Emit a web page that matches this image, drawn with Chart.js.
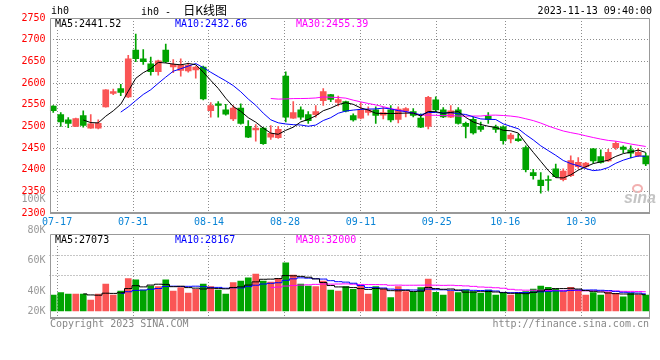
<!DOCTYPE html>
<html><head><meta charset="utf-8">
<script src="https://cdn.jsdelivr.net/npm/chart.js@4.4.0/dist/chart.umd.min.js"></script>
<style>
html,body{margin:0;padding:0;background:#fff;}
#wrap{position:relative;width:660px;height:360px;overflow:hidden;font-family:"DejaVu Sans Mono",monospace;font-size:10px;color:#000;}
canvas{position:absolute;left:0;}
#pc{top:0;}
#vc{top:190px;}
.t{position:absolute;white-space:nowrap;line-height:11px;font-size:10px;}
.h{position:absolute;white-space:nowrap;line-height:9px;height:9px;font-size:10px;background:#fff;padding:0 1px;}
</style></head><body>
<div id="wrap">
<canvas id="pc" width="660" height="232"></canvas>
<canvas id="vc" width="660" height="170"></canvas>
<div class="t" style="left:51px;top:5px;">ih0</div>
<div class="t" style="left:141px;top:3px;line-height:14px;">ih0 - <span style="font-family:'Noto Sans CJK SC';font-size:12px;margin-left:6px;">日K线图</span></div>
<div class="t" style="right:8px;top:5px;">2023-11-13 09:40:00</div>
<div class="h" style="left:54px;top:19px;color:#000;">MA5:2441.52</div>
<div class="h" style="left:174px;top:19px;color:#0000ff;">MA10:2432.66</div>
<div class="h" style="left:295px;top:19px;color:#ff00ff;">MA30:2455.39</div>
<div class="h" style="left:54px;top:235px;color:#000;">MA5:27073</div>
<div class="h" style="left:174px;top:235px;color:#0000ff;">MA10:28167</div>
<div class="h" style="left:295px;top:235px;color:#ff00ff;">MA30:32000</div>
<div class="t" style="left:50px;top:318px;color:#888;">Copyright 2023 SINA.COM</div>
<div class="t" style="right:11px;top:318px;color:#888;">http://finance.sina.com.cn</div>
<div style="position:absolute;left:632px;top:184px;width:7px;height:5px;border:2px solid #f2b0b0;border-radius:50%;"></div>
<div class="t" style="left:624px;top:190px;font-family:'Liberation Sans',sans-serif;font-style:italic;font-weight:bold;font-size:16px;line-height:16px;color:#c4c4c4;">sina</div>
</div>
<script>
const dates = ['07-14','07-17','07-18','07-19','07-20','07-21','07-24','07-25','07-26','07-27','07-28','07-31',
'08-01','08-02','08-03','08-04','08-07','08-08','08-09','08-10','08-11','08-14','08-15','08-16','08-17','08-18','08-21','08-22','08-23','08-24','08-25','08-28','08-29','08-30','08-31',
'09-01','09-04','09-05','09-06','09-07','09-08','09-11','09-12','09-13','09-14','09-15','09-18','09-19','09-20','09-21','09-22','09-25','09-26','09-27','09-28',
'10-09','10-10','10-11','10-12','10-13','10-16','10-17','10-18','10-19','10-20','10-23','10-24','10-25','10-26','10-27','10-30','10-31',
'11-01','11-02','11-03','11-06','11-07','11-08','11-09','11-10'];

const opens = [2547,2527,2515,2500,2525,2496,2496,2545,2576,2587,
2568,2676,2656,2644,2626,2676,2637,2629,2628,2630,
2637,2536,2552,2538,2517,2542,2500,2492,2496,2475,
2474,2616,2519,2538,2527,2527,2559,2573,2555,2557,
2525,2519,2532,2538,2526,2538,2516,2536,2534,2519,
2500,2561,2538,2521,2538,2507,2516,2500,2523,2499,
2499,2471,2471,2451,2393,2376,2377,2402,2377,2386,
2407,2407,2448,2430,2420,2451,2452,2446,2432,2432];

const highs = [2548,2532,2520,2519,2536,2527,2515,2585,2586,2597,
2664,2713,2677,2660,2653,2690,2654,2656,2646,2639,
2639,2555,2557,2551,2548,2552,2513,2504,2497,2502,
2500,2626,2557,2545,2534,2548,2587,2574,2570,2558,
2529,2555,2545,2545,2543,2548,2545,2543,2541,2529,
2569,2568,2543,2548,2543,2510,2522,2510,2532,2503,
2501,2484,2482,2455,2401,2393,2386,2413,2402,2432,
2428,2417,2449,2446,2447,2465,2455,2455,2449,2438];

const lows = [2532,2500,2497,2499,2498,2495,2494,2544,2573,2571,
2566,2649,2643,2618,2618,2647,2624,2616,2625,2611,
2561,2521,2521,2526,2513,2505,2474,2466,2458,2470,
2472,2510,2518,2516,2507,2521,2548,2557,2547,2533,
2512,2517,2526,2507,2517,2510,2508,2522,2522,2497,
2494,2534,2520,2520,2505,2473,2482,2488,2507,2486,
2459,2462,2465,2395,2378,2346,2352,2383,2374,2384,
2403,2403,2415,2415,2419,2447,2439,2427,2430,2409];

const closes = [2536,2510,2507,2518,2502,2506,2507,2584,2580,2578,
2656,2656,2649,2626,2651,2649,2643,2641,2641,2637,
2563,2548,2548,2528,2542,2507,2475,2496,2460,2484,
2493,2521,2532,2521,2513,2534,2580,2562,2562,2535,
2515,2538,2538,2525,2532,2515,2540,2541,2525,2498,
2567,2538,2522,2536,2507,2500,2485,2493,2516,2493,
2467,2480,2467,2400,2386,2363,2375,2384,2397,2421,
2417,2415,2420,2417,2440,2461,2447,2438,2440,2413];

const volumes = [26400,30300,28100,28100,28100,18200,28100,44600,26400,33100,
53400,51700,34700,41300,40200,51700,33100,38500,29800,35900,
44600,40200,34700,28100,46800,49600,55000,61200,49600,47900,
54100,79800,59500,44600,41300,40200,49600,34700,33100,40200,
35900,41300,28100,40200,36400,22000,40200,31900,30900,38500,
52900,30900,26400,33100,30300,34700,31900,29300,34700,26400,
29300,26400,29300,31900,36400,41300,39200,36400,31900,39200,
34700,26400,30300,26400,30900,29300,23600,29300,26400,26400];

const xTickLabels = ['07-17','07-31','08-14','08-28','09-11','09-25','10-16','10-30'];
const priceMin = 2300, priceMax = 2750, priceStep = 50;
const volTickLabels = ['100K','80K','60K','40K','20K'];
const volTickValues = [100000,80000,60000,40000,20000];

const RED = '#fa5555', GREEN = '#00a300';
const GRID = '#8c8c8c';
const MONO = {family:'"DejaVu Sans Mono", monospace', size:10};
Chart.defaults.font.family = MONO.family;
Chart.defaults.font.size = 10;

function sma(src, n){
  return src.map((v,i) => i < n-1 ? null : src.slice(i-n+1, i+1).reduce((a,b)=>a+b,0)/n);
}
const tickIdx = xTickLabels.map(l => dates.indexOf(l));
const candleColors = dates.map((d,i) => closes[i] >= opens[i] ? RED : GREEN);

const framePlugin = {
  id:'frame',
  afterDraw(chart){
    const {ctx, chartArea:a} = chart;
    const L = Math.round(a.left)+0.5, R = Math.round(a.right)-0.5, T = Math.round(a.top)+0.5, B = Math.round(a.bottom);
    ctx.save();
    ctx.strokeStyle = '#999'; ctx.lineWidth = 1;
    ctx.beginPath();
    ctx.moveTo(L, B); ctx.lineTo(L, T); ctx.lineTo(R, T); ctx.lineTo(R, B);
    ctx.stroke();
    ctx.lineWidth = 2;
    ctx.beginPath(); ctx.moveTo(L-0.5, B); ctx.lineTo(R+0.5, B); ctx.stroke();
    ctx.restore();
  }
};

const volLabelPlugin = {
  id:'volLabels',
  afterDraw(chart){
    const s = chart.scales.yl, a = chart.chartArea, ctx = chart.ctx;
    ctx.save();
    ctx.fillStyle = '#999';
    ctx.font = '10px "DejaVu Sans Mono", monospace';
    ctx.textAlign = 'right'; ctx.textBaseline = 'middle';
    volTickValues.forEach((v,i) => {
      const y = Math.min(s.getPixelForValue(v), a.bottom - 7);
      ctx.fillText(volTickLabels[i], a.left - 4, y);
    });
    ctx.restore();
  }
};

const gridX = (showLabels) => ({
  type:'linear', position:'bottom', min:0, max:dates.length-1, offset:false,
  afterBuildTicks: s => { s.ticks = tickIdx.map(v => ({value:v})); },
  afterFit: s => { s.height = showLabels ? 19 : 0; },
  ticks:{display:showLabels, autoSkip:false, maxRotation:0, color:'#0a84d6', font:MONO, padding:3,
         callback: v => dates[v]},
  grid:{color:GRID, drawTicks:false, offset:false, lineWidth:1},
  border:{display:false, dash:[1,2]}
});

const lineDs = (label, data, color, stepped) => ({
  type:'line', label, data, borderColor:color, borderWidth:1, pointRadius:0,
  stepped: stepped ? 'middle' : false, tension:0, xAxisID:'x', yAxisID:'y', order:0
});

new Chart(document.getElementById('pc'), {
  type:'bar',
  data:{
    labels:dates,
    datasets:[
      lineDs('MA5', sma(closes,5), '#000000', false),
      lineDs('MA10', sma(closes,10), '#0000ff', false),
      lineDs('MA30', sma(closes,30), '#ff00ff', false),
      {type:'bar', label:'body', data:dates.map((d,i)=>[opens[i], closes[i]]), backgroundColor:candleColors,
       barThickness:6, grouped:false, minBarLength:1, xAxisID:'x', yAxisID:'y', order:1},
      {type:'bar', label:'wick', data:dates.map((d,i)=>[lows[i], highs[i]]), backgroundColor:candleColors,
       barThickness:1, grouped:false, xAxisID:'x', yAxisID:'y', order:2}
    ]
  },
  options:{
    responsive:false, animation:false, devicePixelRatio:1, events:[],
    layout:{padding:{top:18, right:10.5, bottom:0, left:0}},
    plugins:{legend:{display:false}, tooltip:{enabled:false}},
    scales:{
      x:{type:'category', display:false, offset:true},
      xg:gridX(true),
      y:{type:'linear', position:'left', min:priceMin, max:priceMax, beginAtZero:false,
         afterFit: s => { s.width = 49.5; },
         ticks:{stepSize:priceStep, color:'#ff0000', font:MONO, padding:4, callback: v => String(v)},
         grid:{drawTicks:false, lineWidth:1, color: c => (c.tick && (c.tick.value===priceMin || c.tick.value===priceMax)) ? 'rgba(0,0,0,0)' : GRID},
         border:{display:false, dash:[1,2]}}
    }
  },
  plugins:[framePlugin]
});

new Chart(document.getElementById('vc'), {
  type:'bar',
  data:{
    labels:dates,
    datasets:[
      lineDs('MA5', sma(volumes,5), '#000000', true),
      lineDs('MA10', sma(volumes,10), '#0000ff', true),
      lineDs('MA30', sma(volumes,30), '#ff00ff', true),
      {type:'bar', label:'vol', data:volumes, backgroundColor:candleColors, barThickness:6,
       xAxisID:'x', yAxisID:'y', order:1}
    ]
  },
  options:{
    responsive:false, animation:false, devicePixelRatio:1, events:[],
    layout:{padding:{top:44, right:10.5, bottom:42, left:0}},
    plugins:{legend:{display:false}, tooltip:{enabled:false}},
    scales:{
      x:{type:'category', display:false, offset:true},
      xg:gridX(false),
      y:{type:'linear', position:'left', min:-11600, max:127300,
         afterFit: s => { s.width = 49.5; },
         ticks:{display:false}, grid:{display:false}, border:{display:false}},
      yg:{type:'linear', position:'right', min:-0.1, max:4.05, beginAtZero:false,
          afterBuildTicks: s => { s.ticks = [{value:2},{value:3}]; },
          afterFit: s => { s.width = 0; },
          ticks:{display:false}, grid:{color:GRID, drawTicks:false, lineWidth:1},
          border:{display:false, dash:[1,2]}},
      yl:{type:'linear', display:false, min:22300, max:77400, beginAtZero:false}
    }
  },
  plugins:[framePlugin, volLabelPlugin]
});
</script>
</body></html>
